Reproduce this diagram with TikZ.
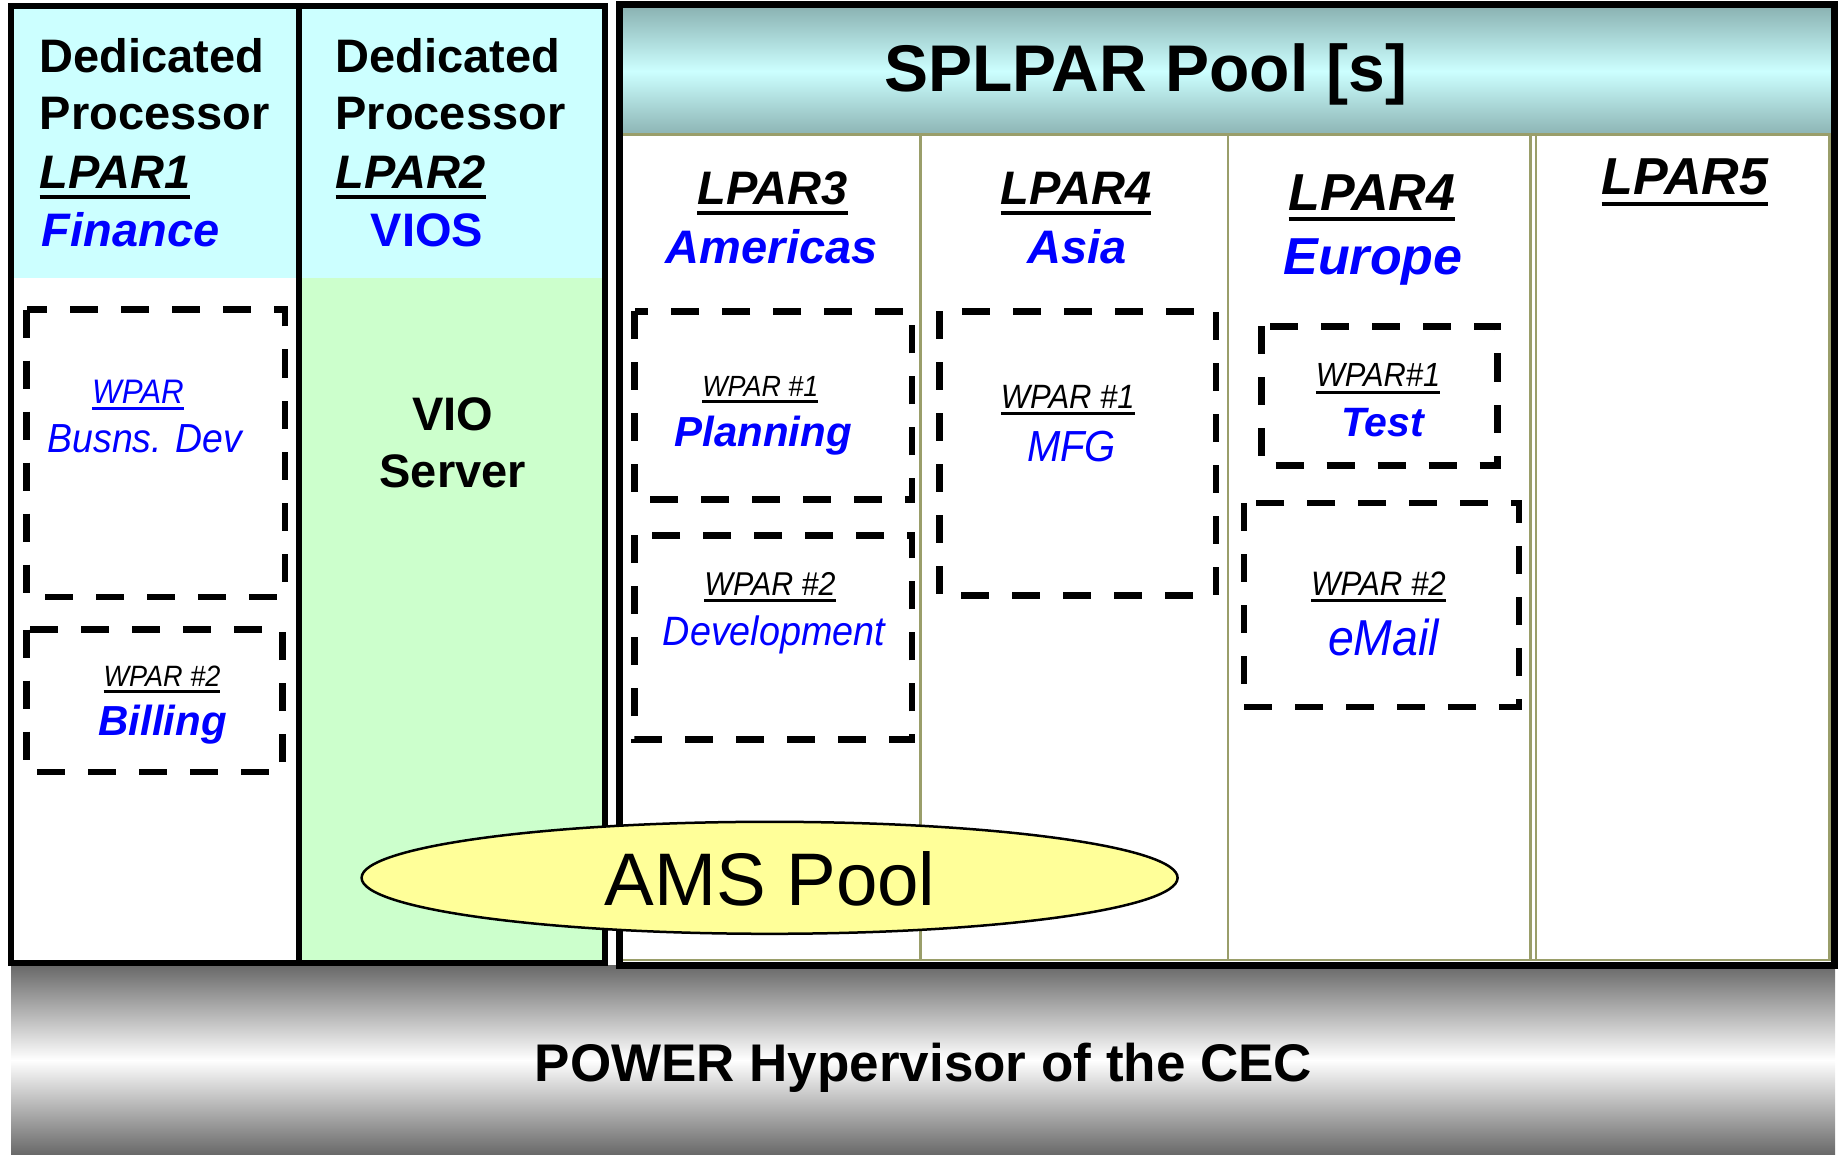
\documentclass[tikz,border=0pt]{standalone}
\usepackage{fontspec}
\setmainfont{Liberation Sans}
\newfontfamily\narrowsf[FakeStretch=0.92]{Liberation Sans}
\usetikzlibrary{shapes.geometric}

\definecolor{lparcyan}{HTML}{CCFFFF}
\definecolor{viosgreen}{HTML}{CCFFCC}
\definecolor{wparblue}{HTML}{0000FF}
\definecolor{cololive}{RGB}{154,158,106}
\definecolor{poolteal}{RGB}{140,180,180}
\definecolor{amsyellow}{HTML}{FFFF99}
\definecolor{hvgray}{RGB}{104,104,104}

\newcommand{\setfs}[1]{\fontsize{#1}{#1}\selectfont}
\newcommand{\ulabel}[1]{\vtop{\hbox{#1}\kern0.12em\hrule height0.085em}}

\tikzset{
  txt/.style={inner sep=0pt, anchor=base},
  dedi/.style={inner sep=0pt, anchor=base west, font=\bfseries\setfs{47}},
  lparname/.style={txt, font=\bfseries\itshape\setfs{#1}},
  lparname/.default=47,
  site/.style={txt, text=wparblue, font=\bfseries\itshape\setfs{#1}},
  site/.default=47,
  wparname/.style={txt, font=\narrowsf\itshape\setfs{#1}},
  wparname/.default=33,
  app/.style={txt, text=wparblue, font=\narrowsf\itshape\setfs{#1}},
  app/.default=41,
  wparbox/.style={draw, line width=6.5pt, dash pattern=on 28pt off 23pt},
  colline/.style={draw=cololive, line width=2.7pt},
}

\begin{document}
\begin{tikzpicture}[x=1pt, y=-1pt]
\useasboundingbox (0,0) rectangle (1841,1155);

% hypervisor band
\shade[top color=hvgray, bottom color=hvgray, middle color=white] (11,965) rectangle (1835,1155);

% dedicated processor lpars
\fill[lparcyan] (10.7,6) rectangle (605,278);
\fill[viosgreen] (298.5,278) rectangle (605,963);
\draw[line width=6pt] (10.7,6) rectangle (605,963);
\draw[line width=6pt] (298.5,6) -- (298.5,963);

% splpar pool
\shade[top color=poolteal, bottom color=poolteal, middle color=lparcyan] (623,8) rectangle (1831,134.5);
\draw[colline] (623,134.5) -- (1829.7,134.5) -- (1829.7,960) -- (623,960);
\foreach \cx in {920.5,1228,1530.7,1536}
  \draw[colline] (\cx,134.5) -- (\cx,960);
\draw[line width=7pt] (619,5) rectangle (1834,965.5);

% wpars
\draw[wparbox] (26.7,309.7) rectangle (284.9,597);
\draw[wparbox] (26.7,629.7) rectangle (282.5,772);
\draw[wparbox] (634.7,311.3) rectangle (912,499.7);
\draw[wparbox] (634.7,535.3) rectangle (912,739.7);
\draw[wparbox] (939.4,311.3) rectangle (1216,595.3);
\draw[wparbox] (1261.5,326.3) rectangle (1497.7,465.3);
\draw[wparbox] (1244,503) rectangle (1519,707);

% ams pool
\node[ellipse, draw, line width=2.5pt, fill=amsyellow, inner sep=0pt,
      minimum width=816pt, minimum height=112pt] (amsring) at (769.6,877.8) {};

% lpar1
\node[dedi] (ded1) at (39.5,72.7) {Dedicated};
\node[dedi] (proc1) at (39.5,130) {Processor};
\node[lparname, anchor=base west] (lpar1) at (39.5,189) {\ulabel{LPAR1}};
\node[site, anchor=base west] (finance) at (41.5,246.7) {Finance};
\node[app=34] (wparbd) at (138,403.3) {\ulabel{WPAR}};
\node[app=40.6] (busdev) at (145,452.7) {Busns. Dev};
\node[wparname=29.4] (wpar2bill) at (162,686.7) {\ulabel{WPAR \#2}};
\node[site=42] (billing) at (162.7,735) {Billing};

% lpar2
\node[dedi] (ded2) at (335.3,72.7) {Dedicated};
\node[dedi] (proc2) at (335.3,130) {Processor};
\node[lparname, anchor=base west] (lpar2) at (335.3,189) {\ulabel{LPAR2}};
\node[txt, text=wparblue, font=\bfseries\setfs{47}] (vios) at (427,246.7) {VIOS};
\node[txt, font=\bfseries\setfs{47}] (vio) at (452.7,430) {VIO};
\node[txt, font=\bfseries\setfs{47}] (server) at (452.7,487) {Server};

% splpar columns
\node[txt, font=\bfseries\setfs{66}] (pool) at (1146,91.7) {SPLPAR Pool [s]};
\node[lparname] (lpar3) at (772.6,205) {\ulabel{LPAR3}};
\node[site] (americas) at (771.8,263.3) {Americas};
\node[lparname] (lpar4a) at (1076,205) {\ulabel{LPAR4}};
\node[site] (asia) at (1077,263.3) {Asia};
\node[lparname=52] (lpar4e) at (1372,210.7) {\ulabel{LPAR4}};
\node[site=52] (europe) at (1373,275) {Europe};
\node[lparname=52] (lpar5) at (1685,195) {\ulabel{LPAR5}};

\node[wparname=29.2] (wpar1plan) at (760.3,396.7) {\ulabel{WPAR \#1}};
\node[site=42] (planning) at (763,446.7) {Planning};
\node[wparname] (wpar2dev) at (770,595) {\ulabel{WPAR \#2}};
\node[app] (develop) at (774,645) {Development};
\node[wparname=33.7] (wpar1mfg) at (1067.8,408.3) {\ulabel{WPAR \#1}};
\node[app=43.5] (mfg) at (1071.5,461.7) {MFG};
\node[wparname=33.5] (wpar1test) at (1378,386.7) {\ulabel{WPAR\#1}};
\node[site=41] (test) at (1382.7,436.7) {Test};
\node[wparname=33.9] (wpar2mail) at (1378.5,595) {\ulabel{WPAR \#2}};
\node[app=50.5] (email) at (1383.5,655) {eMail};

\node[txt, font=\setfs{74.5}] (amstext) at (770,905.7) {AMS Pool};
\node[txt, font=\bfseries\setfs{53}] (hyper) at (923.5,1081.7) {POWER Hypervisor of the CEC};
\end{tikzpicture}
\end{document}
